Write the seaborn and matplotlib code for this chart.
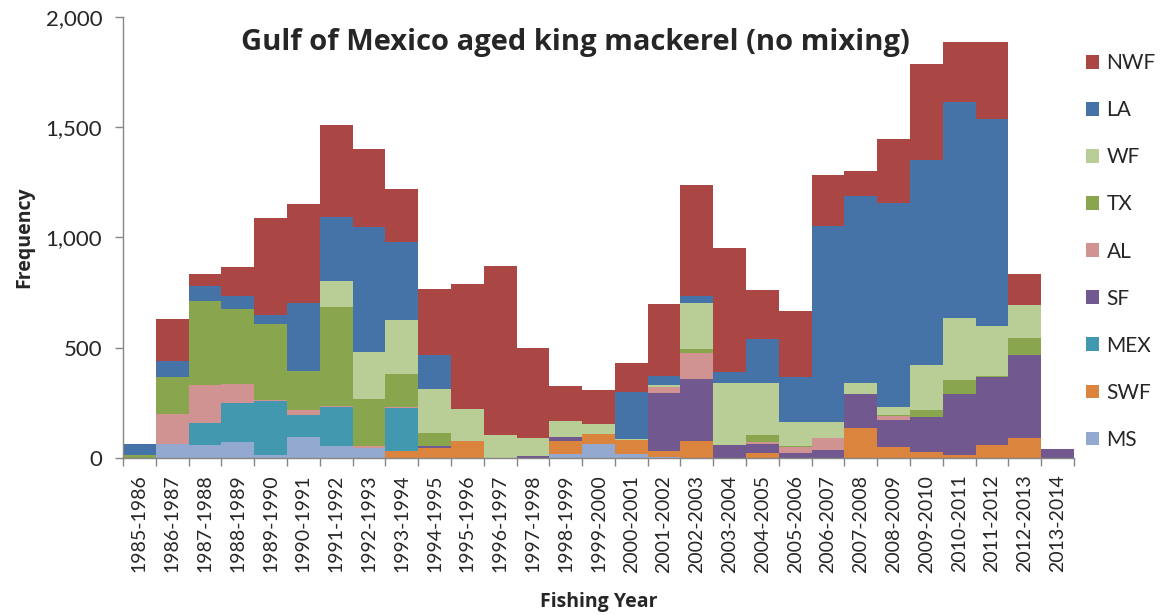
import matplotlib
matplotlib.use("Agg")
import matplotlib.pyplot as plt
import matplotlib.ticker as mticker
import numpy as np
import pandas as pd
import seaborn as sns

years = [
    "1985-1986", "1986-1987", "1987-1988", "1988-1989", "1989-1990", "1990-1991",
    "1991-1992", "1992-1993", "1993-1994", "1994-1995", "1995-1996", "1996-1997",
    "1997-1998", "1998-1999", "1999-2000", "2000-2001", "2001-2002", "2002-2003",
    "2003-2004", "2004-2005", "2005-2006", "2006-2007", "2007-2008", "2008-2009",
    "2009-2010", "2010-2011", "2011-2012", "2012-2013", "2013-2014",
]

# stacking order, top to bottom (also legend order)
regions = ["NWF", "LA", "WF", "TX", "AL", "SF", "MEX", "SWF", "MS"]

nwf = [0, 193, 53, 130, 440, 449, 416, 353, 240, 298, 566, 768, 408, 158, 155,
       131, 324, 501, 565, 224, 298, 230, 115, 287, 434, 275, 352, 141, 0]
la = [52, 73, 69, 59, 42, 308, 291, 565, 350, 155, 0, 0, 0, 0, 0,
      216, 42, 34, 50, 200, 204, 890, 848, 925, 931, 980, 937, 0, 0]
wf = [0, 0, 0, 0, 0, 0, 120, 213, 247, 200, 145, 103, 83, 72, 42,
      4, 9, 209, 278, 235, 110, 74, 52, 38, 204, 279, 226, 146, 0]
tx = [12, 167, 382, 342, 344, 179, 446, 215, 150, 56, 0, 0, 0, 0, 0,
      0, 0, 17, 0, 34, 5, 0, 0, 5, 30, 64, 4, 79, 0]
al = [0, 137, 173, 83, 6, 21, 4, 10, 3, 0, 0, 0, 0, 3, 0,
      0, 28, 118, 0, 6, 27, 53, 0, 16, 0, 0, 0, 0, 0]
sf = [0, 0, 0, 0, 0, 0, 0, 0, 0, 12, 0, 0, 8, 17, 0,
      0, 262, 282, 60, 44, 21, 36, 152, 126, 160, 278, 310, 376, 43]
mex = [0, 0, 99, 179, 246, 98, 180, 0, 198, 0, 0, 0, 0, 0, 0,
       0, 0, 0, 0, 0, 0, 0, 0, 0, 0, 0, 0, 0, 0]
swf = [0, 0, 0, 0, 0, 0, 0, 0, 30, 44, 77, 0, 0, 60, 46,
       64, 27, 76, 0, 21, 0, 0, 136, 48, 26, 12, 59, 91, 0]
ms = [0, 62, 58, 72, 12, 97, 53, 44, 0, 0, 0, 0, 0, 17, 65,
      17, 5, 0, 0, 0, 0, 0, 0, 0, 0, 0, 0, 0, 0]

series = {"NWF": nwf, "LA": la, "WF": wf, "TX": tx, "AL": al,
          "SF": sf, "MEX": mex, "SWF": swf, "MS": ms}

palette = {
    "NWF": "#AA4643", "LA": "#4572A7", "WF": "#B9CD96", "TX": "#89A54E",
    "AL": "#D19392", "SF": "#71588F", "MEX": "#4198AF", "SWF": "#DB843D",
    "MS": "#93A9CF",
}

df = pd.DataFrame(series, index=years).reset_index(names="year")
long = df.melt(id_vars="year", var_name="region", value_name="count")
long["pos"] = long["year"].map({y: i for i, y in enumerate(years)})

sns.set_theme(style="white")
plt.rcParams["font.family"] = ["Lato", "DejaVu Sans"]
bold_family = ["Open Sans", "DejaVu Sans"]

fig = plt.figure(figsize=(11.61, 6.15), dpi=100)
ax = fig.add_axes([0.106, 0.2553, 0.819, 0.7171])

sns.histplot(
    data=long, x="pos", weights="count", hue="region", hue_order=regions,
    multiple="stack", discrete=True, shrink=1, palette=palette,
    alpha=1, linewidth=0, ax=ax,
)

ax.set_xlim(-0.5, len(years) - 0.5)
ax.set_ylim(0, 2000)
ax.yaxis.set_major_locator(mticker.MultipleLocator(500))
ax.yaxis.set_major_formatter(mticker.StrMethodFormatter("{x:,.0f}"))

ax.set_xticks(range(len(years)))
ax.set_xticklabels(years, rotation=90, fontsize=14)
ax.set_xticks(np.arange(-0.5, len(years)), minor=True)
ax.tick_params(axis="x", which="major", length=0, pad=12)
ax.tick_params(axis="x", which="minor", length=6, width=1, color="#868686",
               direction="out", bottom=True)
ax.tick_params(axis="y", length=6, width=1, color="#868686", direction="out",
               left=True, labelsize=16, pad=9)

for side in ["top", "right"]:
    ax.spines[side].set_visible(False)
for side in ["left", "bottom"]:
    ax.spines[side].set_color("#868686")
    ax.spines[side].set_linewidth(1)

ax.set_xlabel("Fishing Year", fontsize=14, fontweight="bold",
              family=bold_family, labelpad=14)
ax.set_ylabel("Frequency", fontsize=14, fontweight="bold",
              family=bold_family, labelpad=8)

ax.text(0.476, 0.943, "Gulf of Mexico aged king mackerel (no mixing)",
        transform=ax.transAxes, ha="center", va="center", fontsize=21,
        fontweight="bold", family=bold_family)

sns.move_legend(ax, "upper left", bbox_to_anchor=(0.919, 0.944),
                bbox_transform=fig.transFigure, title=None, frameon=False,
                fontsize=15, labelspacing=1.3, handlelength=0.65,
                handleheight=0.65, handletextpad=0.35)

fig.savefig("out.png", dpi=100, facecolor="white")
